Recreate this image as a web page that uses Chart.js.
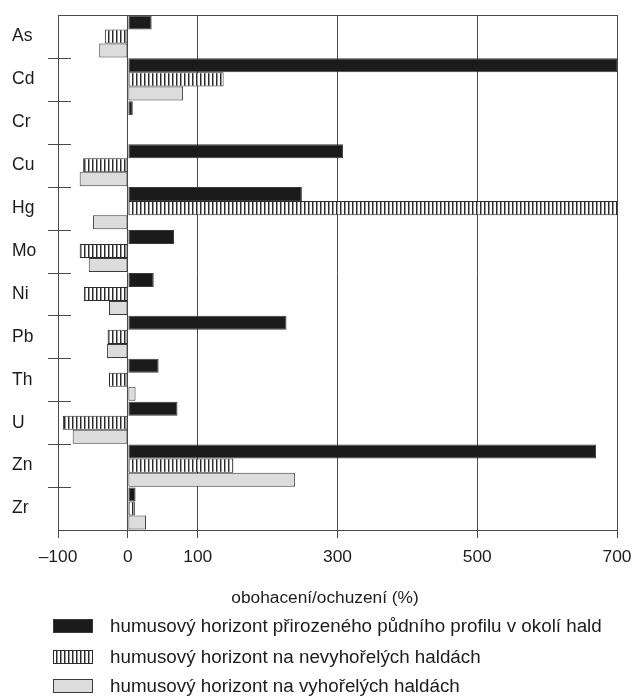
<!DOCTYPE html>
<html>
<head>
<meta charset="utf-8">
<script src="https://cdn.jsdelivr.net/npm/chart.js@4/dist/chart.umd.min.js"></script>
<style>
  html, body { margin: 0; padding: 0; background: #fff; }
  #wrap { width: 635px; height: 696px; }
</style>
</head>
<body>
<div id="wrap"><canvas id="c" width="635" height="696"></canvas></div>
<script>
// Prvky a relativní obohacení/ochuzení (%) humusového horizontu
const categories = ['As', 'Cd', 'Cr', 'Cu', 'Hg', 'Mo', 'Ni', 'Pb', 'Th', 'U', 'Zn', 'Zr'];
const naturalProfile = [34, 700, 7, 308, 249, 66, 37, 227, 44, 71, 670, 11];
const unburntHeaps   = [-33, 137, null, -64, 700, -69, -63, -29, -27, -93, 151, 10];
const burntHeaps     = [-41, 79, null, -69, -50, -56, -27, -30, 11, -79, 239, 26];
const xTickValues = [-100, 0, 100, 300, 500, 700];
const xAxisTitle = 'obohacení/ochuzení (%)';
const seriesLabels = [
  'humusový horizont přirozeného půdního profilu v okolí hald',
  'humusový horizont na nevyhořelých haldách',
  'humusový horizont na vyhořelých haldách'
];

const FONT = '"Liberation Sans", Arial, Helvetica, sans-serif';
const INK = '#1c1c1c';
const LINE = '#4a4a4a';

// svislé šrafování
function stripePattern() {
  const p = document.createElement('canvas');
  p.width = 4; p.height = 4;
  const g = p.getContext('2d');
  g.fillStyle = '#ffffff';
  g.fillRect(0, 0, 4, 4);
  g.fillStyle = '#2a2a2a';
  g.fillRect(0, 0, 1, 4);
  g.fillStyle = '#9a9a9a';
  g.fillRect(1, 0, 1, 4);
  return g.createPattern(p, 'repeat');
}
const ctx = document.getElementById('c').getContext('2d');
const stripes = stripePattern();

const frameAndLegend = {
  id: 'frameAndLegend',
  afterDatasetsDraw(chart) {
    const { ctx, chartArea: a, scales } = chart;
    const y = scales.y;
    ctx.save();
    ctx.strokeStyle = LINE;
    ctx.lineWidth = 1;
    // horní a pravý okraj rámu
    ctx.beginPath();
    ctx.moveTo(a.left, a.top + 0.5);
    ctx.lineTo(a.right + 0.5, a.top + 0.5);
    ctx.lineTo(a.right + 0.5, a.bottom);
    ctx.stroke();
    // značky mezi kategoriemi na svislé ose
    ctx.beginPath();
    for (let i = 1; i < categories.length; i++) {
      const yy = Math.round((y.getPixelForValue(i - 1) + y.getPixelForValue(i)) / 2) + 0.5;
      ctx.moveTo(a.left - 10, yy);
      ctx.lineTo(a.left + 13, yy);
    }
    ctx.stroke();
    ctx.restore();
  },
  afterDraw(chart) {
    const { ctx } = chart;
    ctx.save();
    // popis vodorovné osy
    ctx.font = '17.3px ' + FONT;
    ctx.fillStyle = INK;
    ctx.textAlign = 'center';
    ctx.textBaseline = 'middle';
    ctx.fillText(xAxisTitle, 325, 598);
    // legenda
    const rows = [626, 657, 686];
    ctx.font = '18.8px ' + FONT;
    ctx.textAlign = 'left';
    chart.data.datasets.forEach((ds, i) => {
      const cy = rows[i];
      const bx = 53, bw = 40, bh = 14;
      ctx.fillStyle = ds.backgroundColor;
      ctx.fillRect(bx, cy - bh / 2, bw, bh);
      ctx.strokeStyle = ds.borderColor;
      ctx.lineWidth = 1;
      ctx.strokeRect(bx + 0.5, cy - bh / 2 + 0.5, bw - 1, bh - 1);
      ctx.fillStyle = INK;
      ctx.fillText(ds.label, 110, cy + 1);
    });
    ctx.restore();
  }
};

new Chart(ctx, {
  type: 'bar',
  data: {
    labels: categories,
    datasets: [
      { label: seriesLabels[0], data: naturalProfile, backgroundColor: '#1b1b1b', borderColor: '#3a3a3a', borderWidth: 1 },
      { label: seriesLabels[1], data: unburntHeaps, backgroundColor: stripes, borderColor: '#2a2a2a', borderWidth: 1 },
      { label: seriesLabels[2], data: burntHeaps, backgroundColor: '#dcdcdc', borderColor: '#3a3a3a', borderWidth: 1 }
    ]
  },
  options: {
    indexAxis: 'y',
    responsive: false,
    animation: false,
    devicePixelRatio: 1,
    borderSkipped: false,
    categoryPercentage: 0.98,
    barPercentage: 1,
    layout: { padding: { left: 12, right: 18, top: 15, bottom: 0 } },
    plugins: {
      legend: { display: false },
      tooltip: { enabled: false }
    },
    scales: {
      x: {
        type: 'linear',
        min: -100,
        max: 700,
        afterBuildTicks(scale) {
          scale.ticks = xTickValues.map(v => ({ value: v }));
        },
        afterFit(scale) {
          scale.height = 166;
          scale.paddingLeft = 0;
          scale.paddingRight = 0;
        },
        grid: {
          color: LINE,
          lineWidth: 1,
          tickLength: 8,
          drawTicks: true
        },
        border: { display: true, color: LINE, width: 1 },
        ticks: {
          color: INK,
          font: { family: FONT, size: 17.4 },
          padding: 9,
          maxRotation: 0,
          callback: v => String(v).replace('-', '\u2013')
        },
        title: { display: false }
      },
      y: {
        type: 'category',
        afterFit(scale) { scale.width = 46; },
        grid: { display: false },
        border: { display: true, color: LINE, width: 1 },
        ticks: {
          color: INK,
          crossAlign: 'far',
          font: { family: FONT, size: 17.5 }
        }
      }
    }
  },
  plugins: [frameAndLegend]
});
</script>
</body>
</html>
